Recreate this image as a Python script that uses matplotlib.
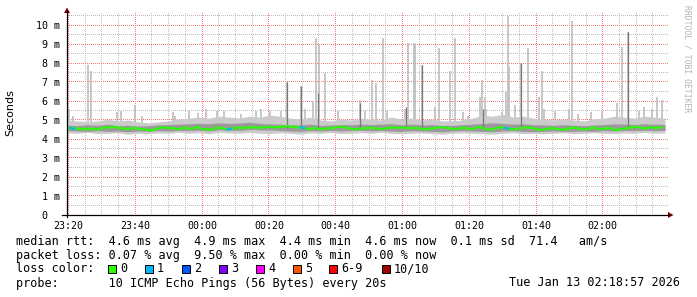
import numpy as np
import matplotlib.pyplot as plt
from matplotlib.patches import Rectangle, Polygon

W, H = 697, 297

# x axis: minutes after 23:20
tick_min = [0, 20, 40, 60, 80, 100, 120, 140, 160]
tick_lab = ["23:20", "23:40", "00:00", "00:20", "00:40", "01:00", "01:20", "01:40", "02:00"]
y_ticks = [0, 1, 2, 3, 4, 5, 6, 7, 8, 9, 10]
y_labs = ["0  ", " 1 m", " 2 m", " 3 m", " 4 m", " 5 m", " 6 m", " 7 m", " 8 m", " 9 m", "10 m"]

# median rtt (ms), one value per minute
median = [
    4.55, 4.60, 4.52, 4.58, 4.50, 4.55, 4.48, 4.57, 4.53, 4.50, 4.56, 4.60, 4.62, 4.58, 4.65, 4.60, 4.55, 4.58, 4.52, 4.55,
    4.60, 4.55, 4.50, 4.52, 4.48, 4.45, 4.50, 4.55, 4.58, 4.62, 4.60, 4.55, 4.58, 4.52, 4.55, 4.60, 4.57, 4.53, 4.58, 4.62,
    4.55, 4.50, 4.52, 4.48, 4.55, 4.60, 4.58, 4.55, 4.50, 4.53, 4.58, 4.60, 4.56, 4.62, 4.58, 4.60, 4.63, 4.60, 4.58, 4.62,
    4.65, 4.62, 4.60, 4.66, 4.62, 4.65, 4.68, 4.63, 4.65, 4.60, 4.62, 4.58, 4.55, 4.52, 4.58, 4.55, 4.50, 4.55, 4.58, 4.55,
    4.60, 4.62, 4.65, 4.60, 4.58, 4.55, 4.52, 4.50, 4.55, 4.58, 4.55, 4.60, 4.58, 4.55, 4.52, 4.55, 4.58, 4.60, 4.62, 4.58,
    4.60, 4.62, 4.58, 4.55, 4.60, 4.57, 4.55, 4.50, 4.52, 4.55, 4.58, 4.60, 4.63, 4.60, 4.58, 4.55, 4.52, 4.55, 4.58, 4.60,
    4.55, 4.52, 4.58, 4.62, 4.60, 4.55, 4.50, 4.48, 4.55, 4.60, 4.62, 4.58, 4.55, 4.52, 4.50, 4.55, 4.58, 4.60, 4.62, 4.58,
    4.55, 4.50, 4.48, 4.52, 4.55, 4.58, 4.55, 4.50, 4.52, 4.48, 4.55, 4.58, 4.60, 4.55, 4.52, 4.50, 4.55, 4.58, 4.60, 4.55,
    4.52, 4.55, 4.58, 4.55, 4.50, 4.48, 4.52, 4.55, 4.58, 4.60, 4.65, 4.62, 4.58, 4.55, 4.60, 4.62, 4.58, 4.60, 4.62,
]

# smoke band, one value per 3 minutes
smoke_hi = [
    5.00, 4.95, 4.90, 4.95, 5.05, 4.95, 5.00, 4.90, 4.85, 4.90,
    4.95, 5.05, 5.10, 5.15, 5.10, 5.20, 5.15, 5.10, 5.20, 5.15,
    5.25, 5.20, 5.10, 5.05, 5.15, 5.00, 4.95, 5.05, 5.00, 5.10,
    5.05, 5.00, 5.15, 5.05, 5.10, 5.00, 5.05, 4.95, 4.95, 5.00,
    5.10, 5.25, 5.20, 5.30, 5.15, 5.20, 5.10, 5.05, 5.00, 5.05,
    5.00, 4.95, 5.05, 5.10, 5.20, 5.15, 5.10, 5.20, 5.15, 5.10,
]
smoke_lo = [
    4.32, 4.30, 4.35, 4.28, 4.30, 4.33, 4.25, 4.30, 4.28, 4.32,
    4.30, 4.35, 4.30, 4.33, 4.28, 4.35, 4.32, 4.30, 4.35, 4.30,
    4.28, 4.33, 4.30, 4.25, 4.32, 4.30, 4.35, 4.28, 4.30, 4.33,
    4.30, 4.35, 4.30, 4.28, 4.30, 4.32, 4.28, 4.25, 4.30, 4.32,
    4.30, 4.28, 4.25, 4.30, 4.33, 4.28, 4.30, 4.27, 4.30, 4.32,
    4.28, 4.30, 4.33, 4.30, 4.28, 4.32, 4.30, 4.35, 4.30, 4.32,
]
smoke_q1 = [
    4.45, 4.42, 4.40, 4.44, 4.40, 4.42, 4.38, 4.42, 4.40, 4.44,
    4.42, 4.45, 4.44, 4.46, 4.42, 4.48, 4.46, 4.45, 4.50, 4.48,
    4.47, 4.45, 4.42, 4.40, 4.44, 4.42, 4.45, 4.42, 4.44, 4.46,
    4.43, 4.45, 4.42, 4.40, 4.44, 4.42, 4.40, 4.38, 4.42, 4.44,
    4.42, 4.40, 4.38, 4.42, 4.44, 4.40, 4.38, 4.40, 4.42, 4.40,
    4.40, 4.42, 4.40, 4.44, 4.42, 4.45, 4.44, 4.46, 4.44, 4.45,
]
smoke_q3 = [
    4.72, 4.70, 4.75, 4.72, 4.78, 4.70, 4.72, 4.68, 4.70, 4.74,
    4.76, 4.78, 4.80, 4.82, 4.80, 4.85, 4.82, 4.84, 4.88, 4.82,
    4.80, 4.78, 4.75, 4.74, 4.78, 4.72, 4.74, 4.76, 4.75, 4.78,
    4.76, 4.78, 4.80, 4.75, 4.78, 4.74, 4.76, 4.72, 4.72, 4.75,
    4.78, 4.82, 4.85, 4.82, 4.78, 4.80, 4.75, 4.74, 4.72, 4.75,
    4.72, 4.70, 4.74, 4.76, 4.80, 4.78, 4.76, 4.80, 4.78, 4.76,
]

# single high pings: minute, top (ms)
spike_min = [0.2, 1.4, 5.8, 6.6, 14.5, 15.6, 19.9, 21.9, 31.3, 31.9, 36.1, 38.8, 41.2, 44.6, 46.5,
             51.6, 56.1, 57.6, 60.2, 61.7, 63.7, 65.5, 69.7, 70.7, 73.2, 74.2, 74.9, 76.7, 80.7,
             87.2, 88.7, 91.0, 92.1, 94.1, 95.3, 100.7, 101.7, 103.4, 103.8, 105.7, 109.7, 111.0,
             114.2, 115.7, 118.2, 119.7, 123.3, 123.8, 124.6, 125.0, 129.8, 131.1, 131.7, 132.0,
             133.6, 135.6, 137.6, 140.8, 141.8, 142.3, 145.6, 149.8, 150.8, 152.5, 156.5, 159.8,
             164.3, 165.8, 167.6, 170.8, 172.3, 174.8, 176.1, 177.8]
spike_top = [5.6, 5.2, 7.9, 7.6, 5.4, 5.5, 5.8, 5.2, 5.4, 5.2, 5.5, 5.35, 5.6, 5.5, 5.5,
             5.3, 5.5, 5.6, 5.5, 5.2, 5.5, 7.0, 6.8, 5.6, 6.0, 9.3, 9.0, 7.45, 5.5,
             6.05, 5.5, 7.1, 6.95, 9.3, 5.5, 5.6, 9.05, 9.05, 9.0, 7.9, 5.7, 8.8,
             7.6, 9.3, 5.4, 5.2, 6.2, 7.1, 6.2, 5.6, 5.4, 6.5, 10.5, 7.8,
             5.8, 8.0, 8.8, 6.2, 7.6, 5.6, 5.5, 5.6, 10.2, 5.3, 5.4, 5.5,
             5.9, 8.85, 9.65, 5.5, 5.7, 5.6, 6.2, 6.05]
dark_min = [65.5, 69.7, 74.8, 87.2, 101.0, 105.7, 124.0, 135.6, 167.6]
dark_top = [7.0, 6.8, 6.4, 5.9, 5.7, 7.9, 5.6, 8.0, 9.65]

# minutes with 1/10 loss
loss_min = [1, 48, 70, 131]

loss_lab = ["0", "1", "2", "3", "4", "5", "6-9", "10/10"]
loss_col = ["#26ff00", "#00b8ff", "#0059ff", "#7e00ff", "#ff00ff", "#ff5500", "#ff0000", "#a00000"]

mono = "DejaVu Sans Mono"

fig = plt.figure(figsize=(W / 100, H / 100), dpi=100)
fig.patch.set_facecolor("white")
ax_px = (67, 13, 669, 215)  # left, top, right, bottom in pixels
gw, gh = ax_px[2] - ax_px[0], ax_px[3] - ax_px[1]
ax = fig.add_axes([ax_px[0] / W, 1 - ax_px[3] / H, gw / W, gh / H])
x0, x1 = -0.45, 179.8
y0, y1 = 0, gh / 19
for s in ax.spines.values():
    s.set_visible(False)

# dotted rrdtool grid, painted pixel by pixel on an opaque white canvas
grid = np.ones((gh, gw, 3), dtype=np.uint8) * 255
minor_c = (190, 190, 190)
major_c = (255, 120, 120)


def col_of(m):
    return int(round((m - x0) / (x1 - x0) * gw - 0.5))


def row_of(v):
    return int(round((y1 - v) / (y1 - y0) * gh - 0.5))


for v in np.arange(0.5, 10.6, 1.0):
    grid[row_of(v), ::2] = minor_c
for m in range(5, 180, 5):
    if m % 20:
        grid[::2, col_of(m)] = minor_c
for v in y_ticks[1:]:
    grid[row_of(v), ::2] = major_c
for m in tick_min:
    grid[::2, col_of(m)] = major_c
ax.imshow(grid, extent=(x0, x1, y0, y1), aspect="auto", interpolation="nearest",
          resample=False, zorder=0)

# smoke
t_med = np.arange(len(median)) - 0.4
t_smk = np.linspace(-0.4, 178.6, len(smoke_hi))
ax.vlines(spike_min, 4.6, spike_top, color="#bdbdbd", lw=1.2, zorder=2)
ax.fill_between(t_smk, smoke_lo, smoke_hi, color="#cbcbcb", lw=0, zorder=3)
ax.fill_between(t_smk, smoke_q1, smoke_q3, color="#9a9a9a", lw=0, zorder=4)
ax.vlines(dark_min, 4.6, dark_top, color="#777777", lw=0.9, zorder=4)
ax.plot(t_med, median, color="#26ff00", lw=1.5, zorder=5)
for m in loss_min:
    ax.plot(t_med[m:m + 2], median[m:m + 2], color="#00b8ff", lw=1.5, zorder=6)

ax.set_xlim(x0, x1)
ax.set_ylim(y0, y1)
ax.set_xticks(tick_min)
ax.set_xticklabels(tick_lab, fontsize=7.2, family=mono)
ax.set_yticks(y_ticks)
ax.set_yticklabels(y_labs, fontsize=7.2, family=mono)
ax.tick_params(axis="both", length=0, pad=4)
ax.tick_params(axis="y", pad=5)

# overlay in pixel coordinates
ov = fig.add_axes([0, 0, 1, 1], zorder=10)
ov.set_xlim(0, W)
ov.set_ylim(H, 0)
ov.axis("off")
ov.patch.set_visible(False)

ov.plot([67, 67], [217, 11], color="black", lw=0.9)
ov.plot([62, 669], [215, 215], color="black", lw=0.9)
ov.add_patch(Polygon([[64, 13], [70, 13], [67, 7.5]], closed=True, color="#800000", lw=0))
ov.add_patch(Polygon([[668, 212], [668, 218], [673.5, 215]], closed=True, color="#800000", lw=0))

ov.text(10, 113, "Seconds", rotation=90, ha="center", va="center", fontsize=8, family="DejaVu Sans")
ov.text(687, 5, "RRDTOOL / TOBI OETIKER", rotation=270, ha="center", va="top",
        fontsize=5.8, family=mono, color="#b4b4b4")

fs = 8.5
ov.text(16, 241, "median rtt:  4.6 ms avg  4.9 ms max  4.4 ms min  4.6 ms now  0.1 ms sd  71.4   am/s",
        ha="left", va="center", fontsize=fs, family=mono)
ov.text(16, 255, "packet loss: 0.07 % avg  9.50 % max  0.00 % min  0.00 % now",
        ha="left", va="center", fontsize=fs, family=mono)
ov.text(16, 269, "loss color:", ha="left", va="center", fontsize=fs, family=mono)
box_x = [108, 145, 182, 219, 256, 293, 329, 382]
for bx, lab, col in zip(box_x, loss_lab, loss_col):
    ov.add_patch(Rectangle((bx, 265), 8, 8, facecolor=col, edgecolor="black", lw=0.7))
    ov.text(bx + 12, 269, lab, ha="left", va="center", fontsize=fs, family=mono)
ov.text(16, 283, "probe:       10 ICMP Echo Pings (56 Bytes) every 20s",
        ha="left", va="center", fontsize=fs, family=mono)
ov.text(680, 283, "Tue Jan 13 02:18:57 2026", ha="right", va="center", fontsize=fs, family=mono)

fig.savefig("out.png", dpi=100)
